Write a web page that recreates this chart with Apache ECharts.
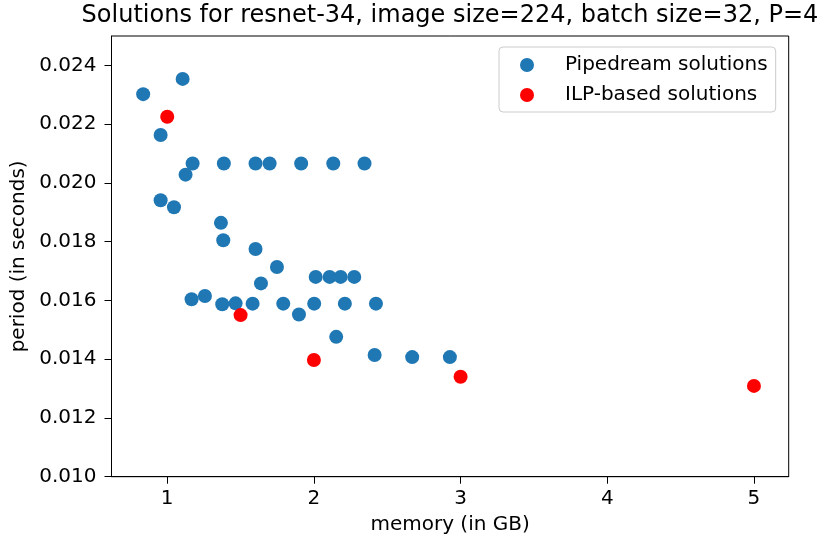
<!DOCTYPE html>
<html>
<head>
<meta charset="utf-8">
<script src="https://cdn.jsdelivr.net/npm/echarts@6/dist/echarts.min.js"></script>
<style>
  html, body { margin: 0; padding: 0; background: #fff; }
  #chart { width: 821px; height: 544px; }
</style>
</head>
<body>
<div id="chart"></div>
<script>
// values
const pipedreamMemory = [0.836, 1.105, 0.955, 1.173, 1.386, 1.602, 1.698, 1.913, 2.132, 2.345,
    1.125, 0.955, 1.046, 1.366, 1.382, 1.602, 1.748, 1.639, 2.012, 2.107,
    2.182, 2.275, 1.166, 1.257, 1.375, 1.466, 1.582, 1.791, 1.898, 2.002,
    2.211, 2.423, 2.152, 2.414, 2.670, 2.927];
const pipedreamPeriod = [0.02302, 0.02354, 0.02163, 0.02066, 0.02066, 0.02066, 0.02066, 0.02066, 0.02066, 0.02066,
    0.02028, 0.01941, 0.01917, 0.01864, 0.01805, 0.01775, 0.01714, 0.01658, 0.01680, 0.01680,
    0.01680, 0.01680, 0.01604, 0.01615, 0.01587, 0.01590, 0.01589, 0.01589, 0.01552, 0.01589,
    0.01589, 0.01589, 0.01476, 0.01414, 0.01407, 0.01407];
const ilpMemory = [1.0, 1.5, 2.0, 3.0, 5.0];
const ilpPeriod = [0.02225, 0.01550, 0.01397, 0.01340, 0.01309];
const xTicks = [1, 2, 3, 4, 5];
const yTicks = [0.010, 0.012, 0.014, 0.016, 0.018, 0.020, 0.022, 0.024];

const font = 'DejaVu Sans';
const zip = (xs, ys) => xs.map((x, i) => [x, ys[i]]);

const chart = echarts.init(document.getElementById('chart'));
chart.setOption({
    animation: false,
    backgroundColor: '#fff',
    textStyle: { fontFamily: font },
    title: {
        text: 'Solutions for resnet-34, image size=224, batch size=32, P=4',
        left: 445,
        top: -1,
        textAlign: 'center',
        textStyle: { fontFamily: font, fontSize: 24, fontWeight: 'normal', color: '#000' }
    },
    legend: {
        orient: 'vertical',
        left: 499,
        top: 47,
        padding: [8, 8, 7, 21],
        itemGap: 10,
        itemWidth: 14,
        itemHeight: 14,
        icon: 'circle',
        borderColor: '#cccccc',
        borderWidth: 1,
        borderRadius: 4,
        backgroundColor: 'rgba(255,255,255,0.8)',
        textStyle: { fontFamily: font, fontSize: 20, color: '#000', lineHeight: 20, padding: [0, 0, 0, 26] },
        data: ['Pipedream solutions', 'ILP-based solutions']
    },
    grid: {
        left: 111.5,
        top: 36,
        right: 32.3,
        bottom: 67.3,
        show: true,
        borderColor: '#000',
        borderWidth: 1
    },
    xAxis: {
        type: 'value',
        min: 0.62,
        max: 5.237,
        name: 'memory (in GB)',
        nameLocation: 'middle',
        nameGap: 38,
        nameTextStyle: { fontFamily: font, fontSize: 20, color: '#000' },
        axisLine: { show: true, lineStyle: { color: '#000', width: 1 } },
        axisTick: { show: true, length: 7, lineStyle: { color: '#000' }, customValues: xTicks },
        axisLabel: { margin: 12, fontFamily: font, fontSize: 20, color: '#000', customValues: xTicks },
        splitLine: { show: false }
    },
    yAxis: {
        type: 'value',
        min: 0.010,
        max: 0.025,
        name: 'period (in seconds)',
        nameLocation: 'middle',
        nameGap: 70,
        nameTextStyle: { fontFamily: font, fontSize: 20, color: '#000' },
        axisLine: { show: true, lineStyle: { color: '#000', width: 1 } },
        axisTick: { show: true, length: 7, lineStyle: { color: '#000' }, customValues: yTicks },
        axisLabel: {
            margin: 15, fontFamily: font, fontSize: 20, color: '#000', customValues: yTicks,
            formatter: v => v.toFixed(3)
        },
        splitLine: { show: false }
    },
    series: [
        {
            name: 'Pipedream solutions',
            type: 'scatter',
            symbolSize: 14,
            itemStyle: { color: '#1f77b4', opacity: 1 },
            emphasis: { disabled: true },
            data: zip(pipedreamMemory, pipedreamPeriod)
        },
        {
            name: 'ILP-based solutions',
            type: 'scatter',
            symbolSize: 14,
            itemStyle: { color: '#ff0000', opacity: 1 },
            emphasis: { disabled: true },
            data: zip(ilpMemory, ilpPeriod)
        }
    ]
});
</script>
</body>
</html>
